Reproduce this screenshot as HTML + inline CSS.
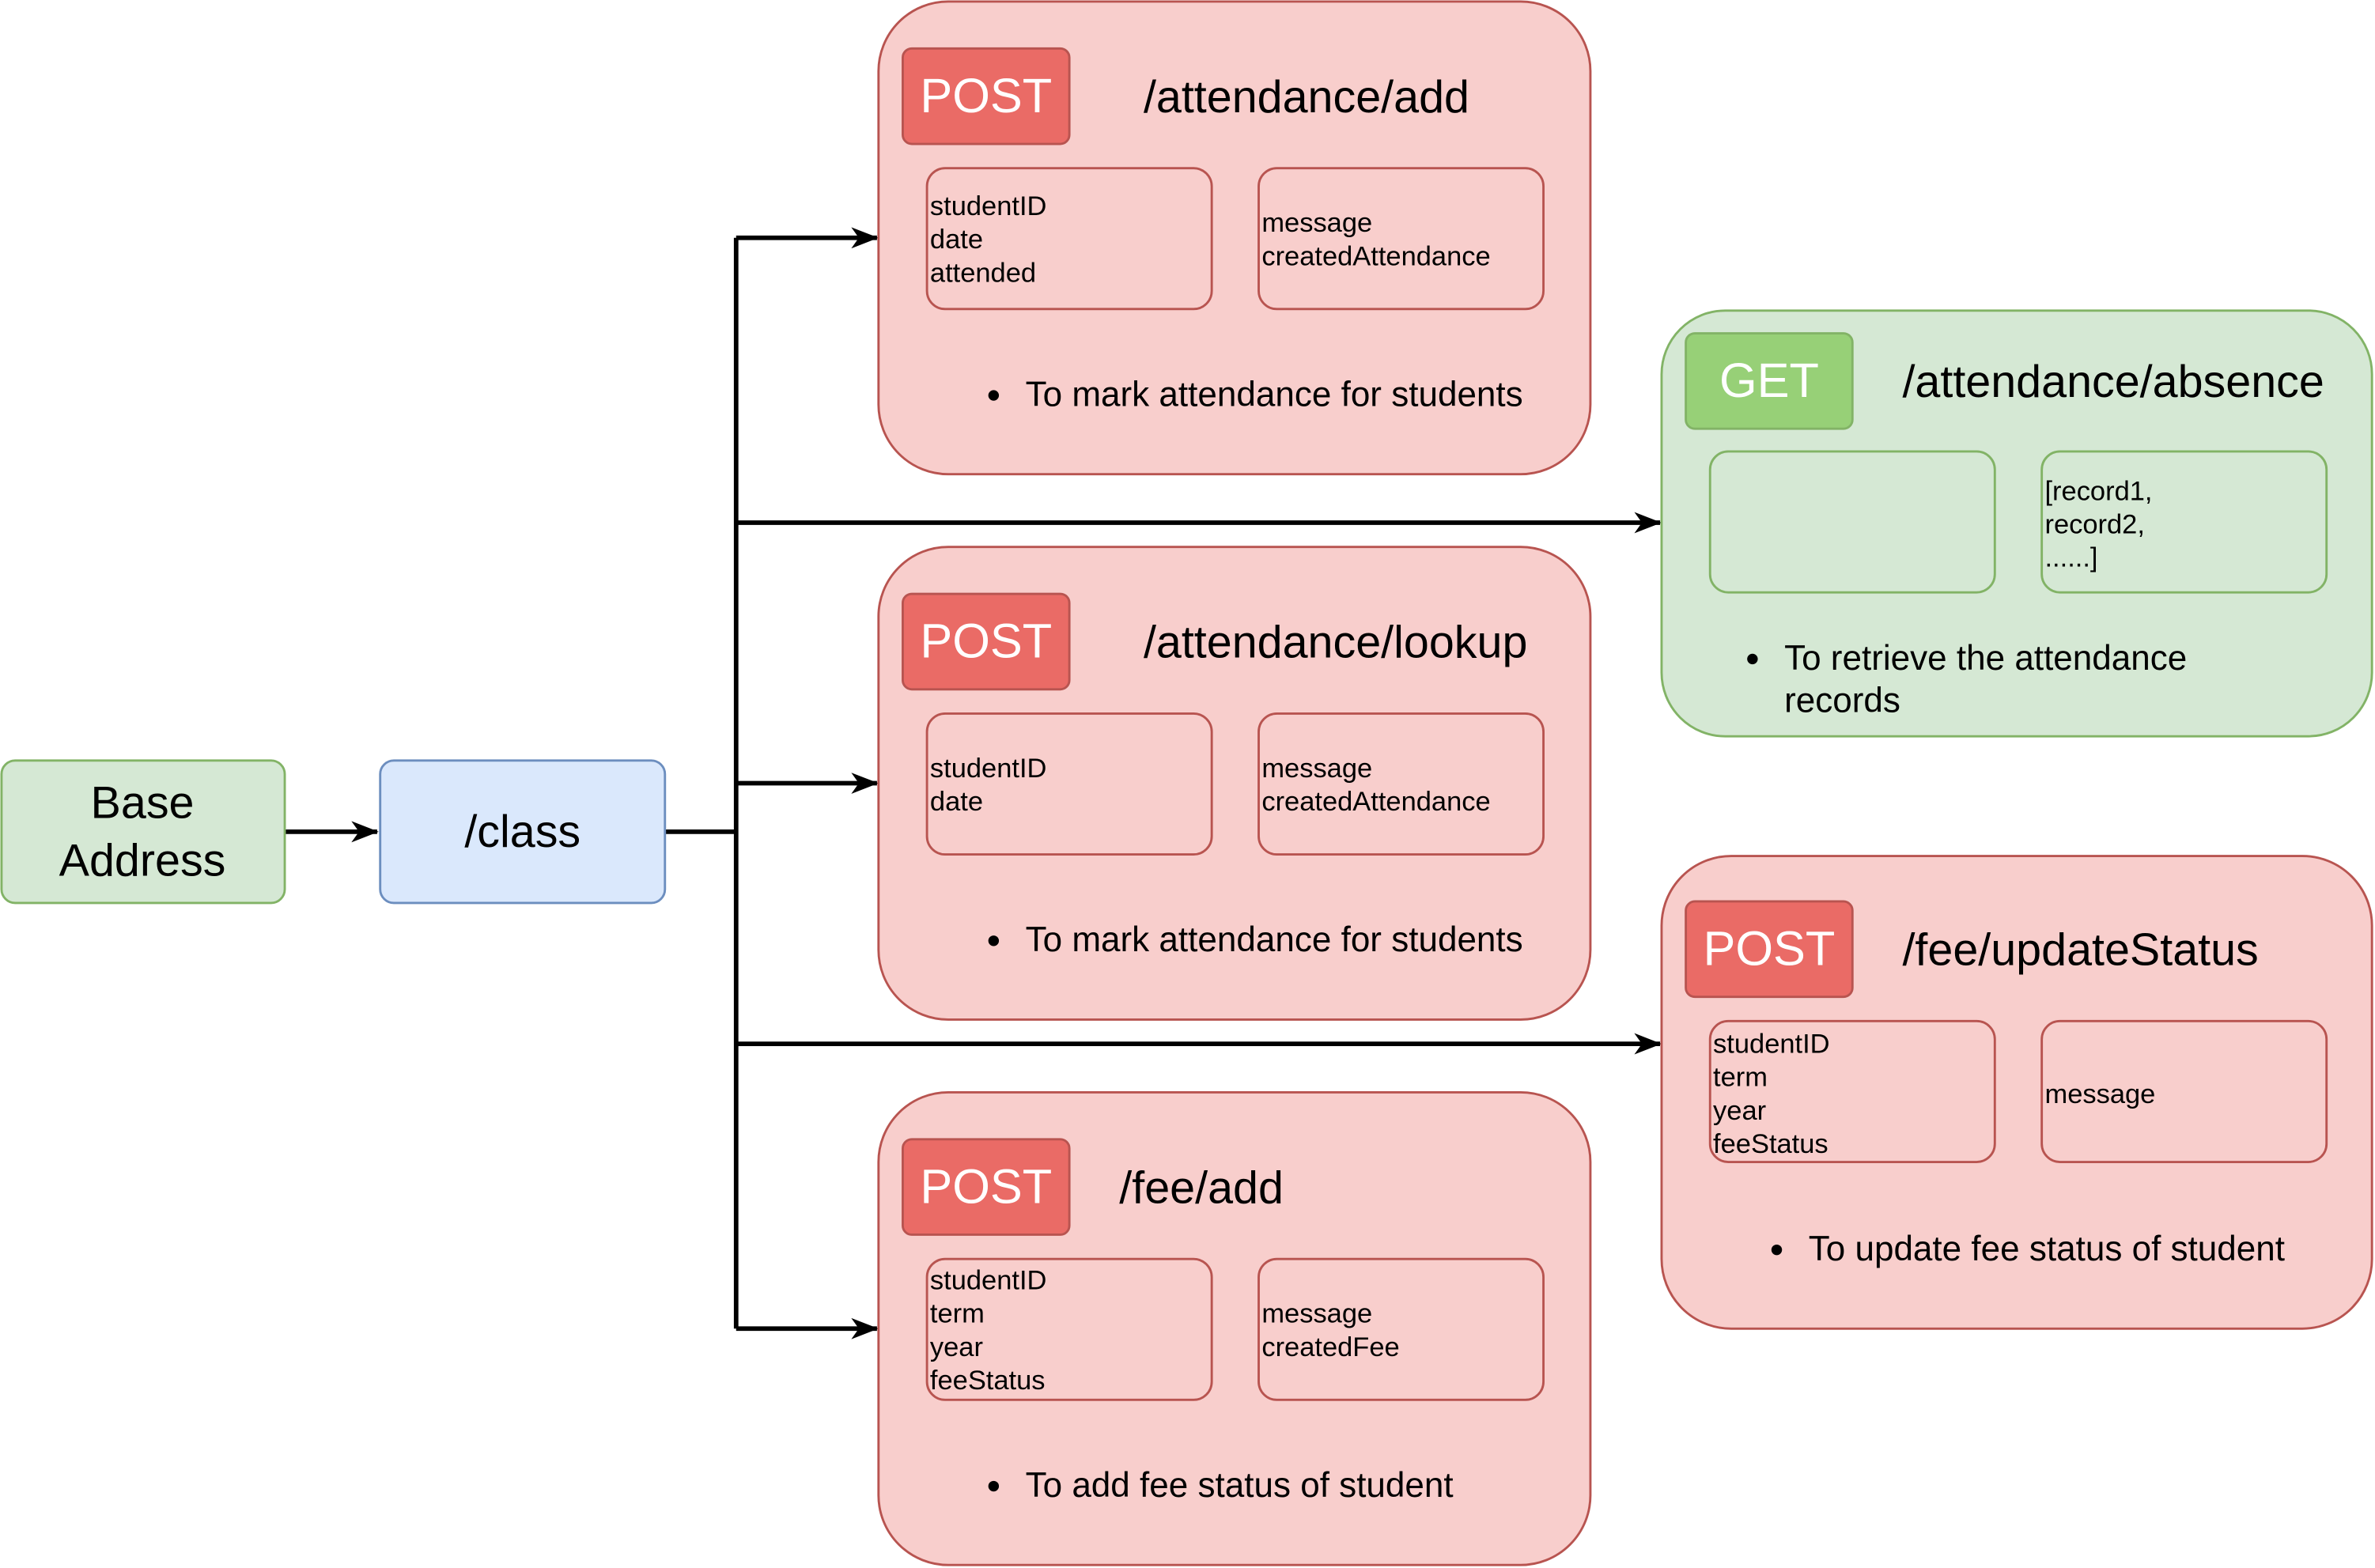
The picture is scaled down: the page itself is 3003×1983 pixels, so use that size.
<!DOCTYPE html>
<html><head><meta charset="utf-8"><style>
html,body{margin:0;padding:0;background:#fff;}
svg{display:block;}
text{font-family:"Liberation Sans",Helvetica,Arial,sans-serif;}
</style></head><body>
<svg width="3003" height="1983" viewBox="0 0 1568 1035" preserveAspectRatio="none" xmlns="http://www.w3.org/2000/svg">
<defs>
<marker id="ah" markerWidth="10" markerHeight="10" refX="9" refY="5" orient="auto" markerUnits="userSpaceOnUse">
<path d="M0,0 L10,5 L0,10 L3,5 Z" fill="#000"/>
</marker>
<marker id="ah2" markerWidth="18" markerHeight="14" refX="17" refY="7" orient="auto" markerUnits="userSpaceOnUse">
<path d="M0,0 L18,7 L0,14 L5,7 Z" fill="#000"/>
</marker>
</defs>

<!-- connectors -->
<g stroke="#000" stroke-width="3" fill="none">
<line x1="188" y1="549" x2="249" y2="549" marker-end="url(#ah2)"/>
<line x1="439" y1="549" x2="486" y2="549"/>
<line x1="486" y1="157" x2="486" y2="877"/>
<line x1="486" y1="157" x2="579" y2="157" marker-end="url(#ah2)"/>
<line x1="486" y1="517" x2="579" y2="517" marker-end="url(#ah2)"/>
<line x1="486" y1="877" x2="579" y2="877" marker-end="url(#ah2)"/>
<line x1="486" y1="345" x2="1096" y2="345" marker-end="url(#ah2)"/>
<line x1="486" y1="689" x2="1096" y2="689" marker-end="url(#ah2)"/>
</g>

<!-- Base Address -->
<rect x="1" y="502" width="187" height="94" rx="9" fill="#d5e8d4" stroke="#82b366" stroke-width="1.5"/>
<text x="94" y="540" font-size="30" text-anchor="middle">Base</text>
<text x="94" y="578" font-size="30" text-anchor="middle">Address</text>

<!-- /class -->
<rect x="251" y="502" width="188" height="94" rx="9" fill="#dae8fc" stroke="#6c8ebf" stroke-width="1.5"/>
<text x="345" y="559" font-size="30" text-anchor="middle">/class</text>

<!-- Box 1 -->
<rect x="580" y="1" width="470" height="312" rx="46" fill="#f8cecc" stroke="#b85450" stroke-width="1.5"/>
<rect x="596" y="32" width="110" height="63" rx="6" fill="#ea6b66" stroke="#b85450" stroke-width="1.5"/>
<text x="651" y="74" font-size="32" fill="#fff" text-anchor="middle">POST</text>
<text x="755" y="74" font-size="30">/attendance/add</text>
<rect x="612" y="111" width="188" height="93" rx="12" fill="#f8cecc" stroke="#b85450" stroke-width="1.5"/>
<rect x="831" y="111" width="188" height="93" rx="12" fill="#f8cecc" stroke="#b85450" stroke-width="1.5"/>
<g font-size="18"><text x="614" y="142">studentID</text><text x="614" y="164">date</text><text x="614" y="186">attended</text>
<text x="833" y="153">message</text><text x="833" y="175">createdAttendance</text></g>
<circle cx="656" cy="261" r="3.5"/>
<text x="677" y="268" font-size="23">To mark attendance for students</text>

<!-- Box 2 -->
<rect x="580" y="361" width="470" height="312" rx="46" fill="#f8cecc" stroke="#b85450" stroke-width="1.5"/>
<rect x="596" y="392" width="110" height="63" rx="6" fill="#ea6b66" stroke="#b85450" stroke-width="1.5"/>
<text x="651" y="434" font-size="32" fill="#fff" text-anchor="middle">POST</text>
<text x="755" y="434" font-size="30">/attendance/lookup</text>
<rect x="612" y="471" width="188" height="93" rx="12" fill="#f8cecc" stroke="#b85450" stroke-width="1.5"/>
<rect x="831" y="471" width="188" height="93" rx="12" fill="#f8cecc" stroke="#b85450" stroke-width="1.5"/>
<g font-size="18"><text x="614" y="513">studentID</text><text x="614" y="535">date</text>
<text x="833" y="513">message</text><text x="833" y="535">createdAttendance</text></g>
<circle cx="656" cy="621" r="3.5"/>
<text x="677" y="628" font-size="23">To mark attendance for students</text>

<!-- Box 3 -->
<rect x="580" y="721" width="470" height="312" rx="46" fill="#f8cecc" stroke="#b85450" stroke-width="1.5"/>
<rect x="596" y="752" width="110" height="63" rx="6" fill="#ea6b66" stroke="#b85450" stroke-width="1.5"/>
<text x="651" y="794" font-size="32" fill="#fff" text-anchor="middle">POST</text>
<text x="739" y="794" font-size="30">/fee/add</text>
<rect x="612" y="831" width="188" height="93" rx="12" fill="#f8cecc" stroke="#b85450" stroke-width="1.5"/>
<rect x="831" y="831" width="188" height="93" rx="12" fill="#f8cecc" stroke="#b85450" stroke-width="1.5"/>
<g font-size="18"><text x="614" y="851">studentID</text><text x="614" y="873">term</text><text x="614" y="895">year</text><text x="614" y="917">feeStatus</text>
<text x="833" y="873">message</text><text x="833" y="895">createdFee</text></g>
<circle cx="656" cy="981" r="3.5"/>
<text x="677" y="988" font-size="23">To add fee status of student</text>

<!-- GET box -->
<rect x="1097" y="205" width="469" height="281" rx="42" fill="#d5e8d4" stroke="#82b366" stroke-width="1.5"/>
<rect x="1113" y="220" width="110" height="63" rx="6" fill="#97d077" stroke="#82b366" stroke-width="1.5"/>
<text x="1168" y="262" font-size="32" fill="#fff" text-anchor="middle">GET</text>
<text x="1256" y="262" font-size="30">/attendance/absence</text>
<rect x="1129" y="298" width="188" height="93" rx="12" fill="#d5e8d4" stroke="#82b366" stroke-width="1.5"/>
<rect x="1348" y="298" width="188" height="93" rx="12" fill="#d5e8d4" stroke="#82b366" stroke-width="1.5"/>
<g font-size="18"><text x="1350" y="330">[record1,</text><text x="1350" y="352">record2,</text><text x="1350" y="374">......]</text></g>
<circle cx="1157" cy="435" r="3.5"/>
<text x="1178" y="442" font-size="23">To retrieve the attendance</text>
<text x="1178" y="470" font-size="23">records</text>

<!-- fee/updateStatus -->
<rect x="1097" y="565" width="469" height="312" rx="46" fill="#f8cecc" stroke="#b85450" stroke-width="1.5"/>
<rect x="1113" y="595" width="110" height="63" rx="6" fill="#ea6b66" stroke="#b85450" stroke-width="1.5"/>
<text x="1168" y="637" font-size="32" fill="#fff" text-anchor="middle">POST</text>
<text x="1256" y="637" font-size="30">/fee/updateStatus</text>
<rect x="1129" y="674" width="188" height="93" rx="12" fill="#f8cecc" stroke="#b85450" stroke-width="1.5"/>
<rect x="1348" y="674" width="188" height="93" rx="12" fill="#f8cecc" stroke="#b85450" stroke-width="1.5"/>
<g font-size="18"><text x="1131" y="695">studentID</text><text x="1131" y="717">term</text><text x="1131" y="739">year</text><text x="1131" y="761">feeStatus</text>
<text x="1350" y="728">message</text></g>
<circle cx="1173" cy="825" r="3.5"/>
<text x="1194" y="832" font-size="23">To update fee status of student</text>
</svg>
</body></html>
